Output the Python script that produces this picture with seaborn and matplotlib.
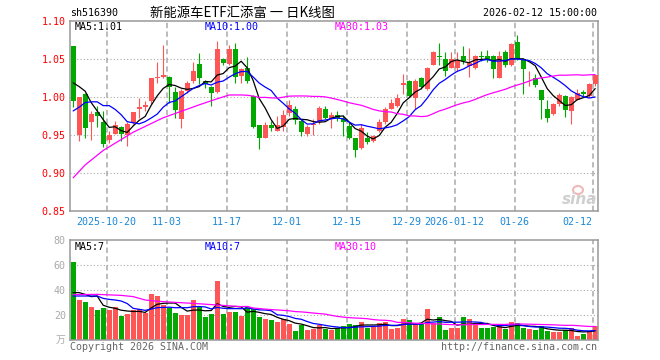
import numpy as np
import pandas as pd
import seaborn as sns
from matplotlib import pyplot as plt
from matplotlib.patches import Ellipse

# daily candles, 2025-10-10 .. 2026-02-12
opens = [1.066, 0.950, 1.003, 0.966, 0.980, 0.967, 0.943, 0.951, 0.960, 0.950,
         0.965, 0.984, 0.986, 0.994, 1.024, 1.026, 1.026, 1.006, 0.970, 1.007,
         1.020, 1.043, 1.020, 1.013, 1.006, 1.050, 1.043, 1.063, 1.027, 1.037,
         1.001, 0.962, 0.946, 0.963, 0.955, 0.960, 0.978, 0.984, 0.968, 0.951,
         0.962, 0.966, 0.984, 0.970, 0.976, 0.972, 0.961, 0.945, 0.932, 0.945,
         0.942, 0.954, 0.967, 0.984, 0.987, 1.015, 1.020, 0.998, 1.024, 1.010,
         1.042, 1.053, 1.049, 1.038, 1.037, 1.053, 1.040, 1.037, 1.053, 1.053,
         1.053, 1.025, 1.058, 1.041, 1.072, 1.049, 1.033, 1.024, 1.008, 0.983,
         0.977, 0.990, 1.001, 0.981, 0.996, 1.006, 1.001, 1.016]
highs = [1.067, 1.000, 1.005, 0.981, 0.988, 0.981, 0.955, 0.968, 0.961, 0.967,
         0.980, 0.998, 0.994, 1.025, 1.046, 1.068, 1.027, 1.012, 1.010, 1.021,
         1.045, 1.057, 1.022, 1.014, 1.073, 1.051, 1.068, 1.071, 1.038, 1.052,
         1.002, 0.963, 0.966, 0.968, 0.975, 0.982, 0.996, 0.987, 0.970, 0.962,
         0.970, 0.987, 0.988, 0.979, 0.981, 0.976, 0.966, 0.946, 0.964, 0.953,
         0.950, 0.970, 0.986, 0.997, 1.003, 1.029, 1.022, 1.023, 1.026, 1.039,
         1.060, 1.071, 1.059, 1.059, 1.059, 1.067, 1.064, 1.055, 1.060, 1.061,
         1.054, 1.060, 1.061, 1.071, 1.081, 1.050, 1.034, 1.029, 1.009, 0.996,
         0.992, 1.004, 1.002, 1.001, 1.010, 1.009, 1.018, 1.028]
lows = [0.986, 0.942, 0.946, 0.943, 0.960, 0.934, 0.939, 0.951, 0.942, 0.935,
        0.964, 0.972, 0.981, 0.990, 1.018, 1.025, 0.992, 0.972, 0.959, 1.005,
        1.018, 1.016, 1.011, 0.987, 1.004, 1.041, 1.042, 1.018, 1.018, 1.018,
        0.958, 0.931, 0.945, 0.955, 0.955, 0.955, 0.975, 0.964, 0.948, 0.948,
        0.950, 0.964, 0.970, 0.959, 0.968, 0.948, 0.944, 0.920, 0.931, 0.938,
        0.940, 0.953, 0.964, 0.983, 0.986, 1.003, 0.999, 0.983, 1.010, 1.009,
        1.041, 1.042, 1.027, 1.037, 1.034, 1.043, 1.026, 1.036, 1.047, 1.045,
        1.025, 1.024, 1.039, 1.040, 1.048, 1.003, 1.014, 1.012, 0.970, 0.967,
        0.976, 0.988, 0.973, 0.964, 0.995, 0.999, 0.999, 1.014]
closes = [0.994, 1.000, 0.959, 0.977, 0.975, 0.937, 0.949, 0.963, 0.951, 0.964,
          0.979, 0.986, 0.989, 1.024, 1.026, 1.028, 1.012, 0.982, 1.007, 1.018,
          1.034, 1.024, 1.016, 1.004, 1.063, 1.044, 1.063, 1.026, 1.036, 1.020,
          0.960, 0.945, 0.963, 0.959, 0.963, 0.976, 0.989, 0.969, 0.953, 0.960,
          0.964, 0.985, 0.972, 0.976, 0.972, 0.967, 0.945, 0.929, 0.959, 0.940,
          0.948, 0.967, 0.984, 0.991, 0.998, 1.018, 1.001, 1.021, 1.013, 1.037,
          1.058, 1.052, 1.034, 1.049, 1.048, 1.047, 1.044, 1.053, 1.052, 1.050,
          1.036, 1.053, 1.041, 1.069, 1.049, 1.036, 1.034, 1.015, 0.995, 0.972,
          0.990, 1.002, 0.982, 1.000, 1.005, 1.003, 1.016, 1.028]
volumes = [62.7, 32.0, 30.4, 26.7, 24.0, 25.9, 24.0, 26.1, 19.2, 20.8,
           24.0, 24.5, 21.9, 37.1, 35.2, 28.0, 25.6, 21.9, 20.0, 20.0,
           32.0, 26.1, 18.7, 21.1, 47.2, 21.1, 22.4, 22.4, 19.2, 26.1,
           24.5, 18.4, 17.1, 16.0, 14.7, 16.5, 13.1, 7.2, 12.3, 8.0,
           9.1, 11.7, 8.8, 8.0, 9.3, 11.2, 12.8, 12.0, 14.4, 9.6,
           11.2, 13.6, 14.4, 8.8, 9.6, 16.8, 16.0, 12.8, 12.8, 24.8,
           13.6, 18.4, 8.0, 9.6, 9.6, 18.4, 16.8, 12.0, 9.6, 9.6,
           10.4, 11.2, 8.8, 14.4, 13.6, 9.6, 8.8, 8.0, 11.2, 7.2,
           6.4, 6.4, 8.0, 10.0, 3.2, 4.8, 7.5, 11.0]

# moving averages at the left edge depend on earlier days
ma5_head = [1.018, 1.013, 1.007, 0.992]
ma10_head = [0.981, 0.986, 0.992, 0.993, 0.993, 0.988, 0.988, 0.983, 0.976]
ma30_head_idx = [0, 2, 5, 10, 15, 21, 24, 26, 28]
ma30_head = [0.893, 0.910, 0.929, 0.953, 0.972, 0.989, 0.997, 1.002, 1.002]
vma5_head = [37.9, 37.9, 36.5, 34.7]
vma10_head = [35.2, 35.2, 35.2, 35.2, 35.2, 33.3, 32.5, 32.0, 31.2]
vma30_head_idx = [0, 4, 8, 10, 12, 14, 17, 20, 24, 28]
vma30_head = [36.3, 36.5, 35.7, 34.7, 32.0, 31.0, 30.1, 29.3, 28.0, 26.7]

date_idx = [6, 16, 26, 36, 46, 56, 64, 74, 87]
date_labels = ['2025-10-20', '11-03', '11-17', '12-01', '12-15', '12-29',
               '2026-01-12', '01-26', '02-12']

RED = '#ff5555'
GREEN = '#00a800'
GRID = '#aaaaaa'
DATE_BLUE = '#1a87d5'

sns.set_style("white")
plt.rcParams['font.family'] = ['DejaVu Sans Mono', 'Noto Sans CJK SC']

W, H = 660, 360
fig = plt.figure(figsize=(W / 100, H / 100), dpi=100)
ax = fig.add_axes([70 / W, (H - 210.5) / H, 528 / W, 190 / H])
axv = fig.add_axes([70 / W, (H - 340) / H, 528 / W, 100 / H])


def px(x, y):
    return x / W, 1 - y / H


df = pd.DataFrame({'o': opens, 'h': highs, 'l': lows, 'c': closes, 'v': volumes})
df['i'] = np.arange(len(df))
colors = np.where(df['c'] >= df['o'], RED, GREEN)


def ma_line(series, n, head, head_idx=None):
    roll = series.rolling(n).mean()
    if head_idx is None:
        head_idx = list(range(len(head)))
    xs = list(head_idx) + list(range(n - 1, len(series)))
    ys = list(head) + list(roll.iloc[n - 1:])
    return pd.DataFrame({'x': xs, 'y': ys})


for a in (ax, axv):
    for i in date_idx:
        a.axvline(i - 0.42, color=GRID, lw=1.1, ls=(0, (3.5, 2.2)), zorder=0)
    for s in a.spines.values():
        s.set_visible(True)
        s.set_color('#999999')
        s.set_linewidth(1.1)
    a.set_xlim(-0.53, len(df) - 0.53)
    a.set_xticks([])
    a.tick_params(axis='y', length=0, pad=3)

for p in [0.90, 0.95, 1.00, 1.05]:
    ax.axhline(p, color=GRID, lw=0.8, ls=(0, (1, 2)), zorder=0)
for v in [20, 40, 60]:
    axv.axhline(v, color=GRID, lw=0.8, ls=(0, (1, 2)), zorder=0)

# candles
ax.vlines(df['i'], df['l'], df['h'], colors=colors, lw=0.8, zorder=2)
body_lo = np.minimum(df['o'], df['c'])
body_h = np.maximum(np.abs(df['c'] - df['o']), 0.0009)
ax.bar(df['i'], body_h, bottom=body_lo, width=0.83, color=colors, lw=0, zorder=3)

for n, head, hidx, col in [(5, ma5_head, None, 'black'), (10, ma10_head, None, '#0000ff'),
                           (30, ma30_head, ma30_head_idx, '#ff00ff')]:
    d = ma_line(df['c'], n, head, hidx)
    sns.lineplot(data=d, x='x', y='y', ax=ax, color=col, lw=0.9, legend=False, zorder=4)

ax.set_ylim(0.85, 1.10)
ax.set_yticks([0.85, 0.90, 0.95, 1.00, 1.05, 1.10])
ax.set_yticklabels(['%.2f' % t for t in ax.get_yticks()], color='#ff0000', fontsize=7.2)
ax.set_xlabel('')
ax.set_ylabel('')

# volume
axv.bar(df['i'], df['v'], width=0.83, color=colors, lw=0, zorder=2)
for n, head, hidx, col in [(5, vma5_head, None, 'black'), (10, vma10_head, None, '#0000ff'),
                           (30, vma30_head, vma30_head_idx, '#ff00ff')]:
    d = ma_line(df['v'], n, head, hidx)
    sns.lineplot(data=d, x='x', y='y', ax=axv, color=col, lw=0.9, legend=False, zorder=4)
axv.set_ylim(0, 80)
axv.set_yticks([20, 40, 60, 80])
axv.set_yticklabels(['20', '40', '60', '80'], color='#aaaaaa', fontsize=7.2)
axv.set_xlabel('')
axv.set_ylabel('')
axv.text(-0.008, 0.0, '万', transform=axv.transAxes, ha='right', va='center',
         color='#aaaaaa', fontsize=7, family=['Noto Sans CJK SC'])

# date labels under price panel
for i, lab in zip(date_idx, date_labels):
    ha = 'right' if i == date_idx[-1] else 'center'
    ax.text(i - 0.42, -0.06, lab, transform=ax.get_xaxis_transform(), ha=ha, va='center',
            color=DATE_BLUE, fontsize=7.2)

# header
fig.text(*px(70, 13.5), 'sh516390', ha='left', va='center', fontsize=7.2, color='black')
fig.text(*px(150, 12.5), '新能源车ETF汇添富 一 日K线图', ha='left', va='center',
         fontsize=9.6, color='black', family=['Noto Sans CJK SC', 'DejaVu Sans'])
fig.text(*px(597, 13.5), '2026-02-12 15:00:00', ha='right', va='center', fontsize=7.2, color='black')

fig.text(*px(75, 26.5), 'MA5:1.01', ha='left', va='center', fontsize=7.2, color='black')
fig.text(*px(205, 26.5), 'MA10:1.00', ha='left', va='center', fontsize=7.2, color='#0000ff')
fig.text(*px(335, 26.5), 'MA30:1.03', ha='left', va='center', fontsize=7.2, color='#ff00ff')

fig.text(*px(75, 246.5), 'MA5:7', ha='left', va='center', fontsize=7.2, color='black')
fig.text(*px(205, 246.5), 'MA10:7', ha='left', va='center', fontsize=7.2, color='#0000ff')
fig.text(*px(335, 246.5), 'MA30:10', ha='left', va='center', fontsize=7.2, color='#ff00ff')

fig.text(*px(70, 346.5), 'Copyright 2026 SINA.COM', ha='left', va='center', fontsize=7.2, color='#666666')
fig.text(*px(597, 346.5), 'http://finance.sina.com.cn', ha='right', va='center', fontsize=7.2, color='#666666')

# sina watermark
fig.add_artist(Ellipse(px(578, 190), 10 / W, 8 / H, transform=fig.transFigure,
                       facecolor='none', edgecolor='#f2b8b8', lw=1.5))
fig.text(*px(597, 200), 'sina', ha='right', va='center', fontsize=11, color='#cfcfcf',
         style='italic', weight='bold', family=['DejaVu Sans'])

fig.savefig('out.png', dpi=100)
